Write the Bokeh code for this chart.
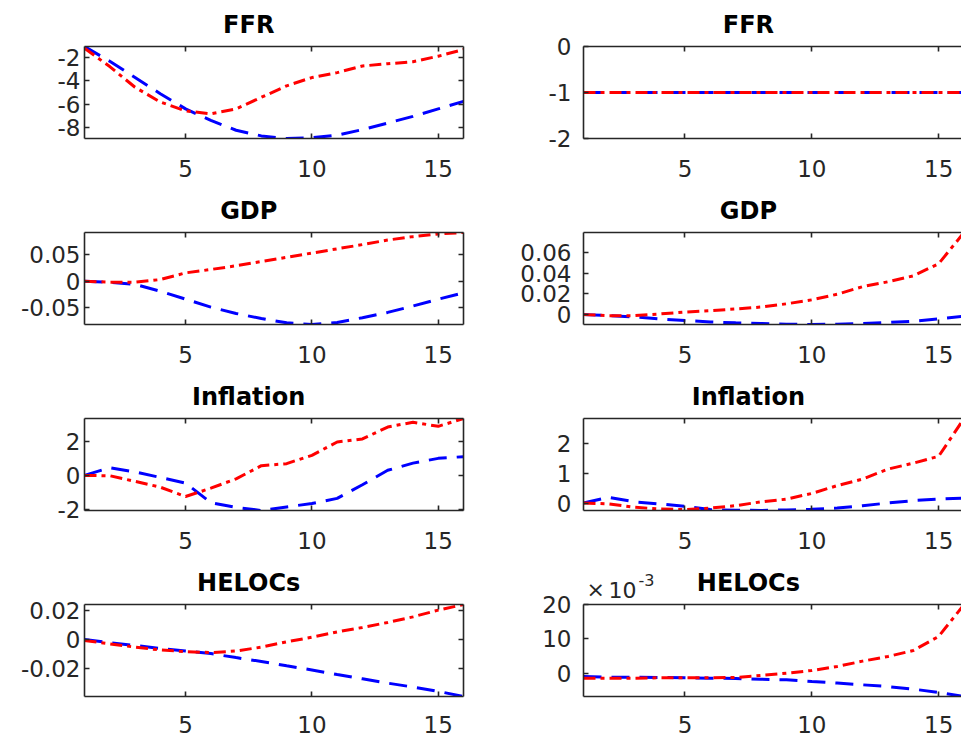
from bokeh.plotting import figure
from bokeh.models import LinearAxis, FixedTicker, Range1d, Label
from bokeh.layouts import column, row
from bokeh.embed import file_html
from bokeh.resources import INLINE

# quarters after the shock
horizon = list(range(1, 17))
x_ticks = [5, 10, 15]

# left column
ffr_a_blue = [-1.10, -2.35, -3.72, -5.10, -6.38, -7.36, -8.19, -8.67, -8.89, -8.83, -8.61, -8.14, -7.58, -7.02, -6.38, -5.75]
ffr_a_red = [-1.25, -2.80, -4.55, -5.80, -6.55, -6.80, -6.38, -5.40, -4.43, -3.73, -3.31, -2.75, -2.56, -2.39, -1.92, -1.36]
gdp_a_blue = [0.0, -0.002, -0.0062, -0.019, -0.034, -0.049, -0.061, -0.0705, -0.0786, -0.0818, -0.078, -0.069, -0.059, -0.047, -0.034, -0.022]
gdp_a_red = [0.0, -0.002, -0.002, 0.003, 0.0156, 0.022, 0.029, 0.037, 0.045, 0.053, 0.061, 0.069, 0.0775, 0.084, 0.089, 0.0918]
infl_a_blue = [0.0, 0.45, 0.20, -0.12, -0.45, -1.60, -1.88, -2.06, -1.85, -1.65, -1.35, -0.55, 0.30, 0.72, 1.00, 1.10]
infl_a_red = [0.0, -0.02, -0.35, -0.69, -1.24, -0.75, -0.20, 0.57, 0.69, 1.18, 1.96, 2.14, 2.84, 3.12, 2.88, 3.34]
heloc_a_blue = [0.0, -0.0023, -0.0041, -0.0062, -0.008, -0.0098, -0.0126, -0.0153, -0.0183, -0.0212, -0.0244, -0.0274, -0.0304, -0.0331, -0.0361, -0.0397]
heloc_a_red = [-0.0007, -0.003, -0.0053, -0.0073, -0.0084, -0.0091, -0.008, -0.0053, -0.0016, 0.0016, 0.0053, 0.0084, 0.0119, 0.0158, 0.0205, 0.0244]

# right column
ffr_b_blue = [-1.0, -1.0, -1.0, -1.0, -1.0, -1.0, -1.0, -1.0, -1.0, -1.0, -1.0, -1.0, -1.0, -1.0, -1.0, -1.0]
ffr_b_red = [-1.0, -1.0, -1.0, -1.0, -1.0, -1.0, -1.0, -1.0, -1.0, -1.0, -1.0, -1.0, -1.0, -1.0, -1.0, -1.0]
gdp_b_blue = [0.0, -0.001, -0.0022, -0.0041, -0.0057, -0.007, -0.0079, -0.0085, -0.0092, -0.0095, -0.0092, -0.0085, -0.0076, -0.0063, -0.0041, -0.0016]
gdp_b_red = [0.0, -0.001, -0.001, 0.0006, 0.0025, 0.0038, 0.0054, 0.0073, 0.0104, 0.0142, 0.0196, 0.0269, 0.0316, 0.0373, 0.049, 0.079]
infl_b_blue = [0.0, 0.19, 0.04, -0.03, -0.11, -0.22, -0.24, -0.25, -0.23, -0.21, -0.17, -0.09, 0.0, 0.08, 0.13, 0.16]
infl_b_red = [0.0, -0.03, -0.14, -0.20, -0.22, -0.17, -0.09, 0.04, 0.13, 0.32, 0.58, 0.80, 1.13, 1.33, 1.56, 2.82]
heloc_b_blue = [-0.00097, -0.00117, -0.00117, -0.00126, -0.00136, -0.00146, -0.00155, -0.00175, -0.00194, -0.00243, -0.0029, -0.0034, -0.0039, -0.00466, -0.0056, -0.0068]
heloc_b_red = [-0.00146, -0.00146, -0.00146, -0.00136, -0.00136, -0.00136, -0.00126, -0.00068, 0.0, 0.00078, 0.00194, 0.0035, 0.00485, 0.0066, 0.0107, 0.0200]

# tick positions and their labels
ffr_a_ticks, ffr_a_labels = [-8, -6, -4, -2], ["-8", "-6", "-4", "-2"]
ffr_b_ticks, ffr_b_labels = [-2, -1, 0], ["-2", "-1", "0"]
gdp_a_ticks, gdp_a_labels = [-0.05, 0, 0.05], ["-0.05", "0", "0.05"]
gdp_b_ticks, gdp_b_labels = [0, 0.02, 0.04, 0.06], ["0", "0.02", "0.04", "0.06"]
infl_a_ticks, infl_a_labels = [-2, 0, 2], ["-2", "0", "2"]
infl_b_ticks, infl_b_labels = [0, 1, 2], ["0", "1", "2"]
heloc_a_ticks, heloc_a_labels = [-0.02, 0, 0.02], ["-0.02", "0", "0.02"]
heloc_b_ticks, heloc_b_labels = [0, 0.01, 0.02], ["0", "10", "20"]

titles = ["FFR", "GDP", "Inflation", "HELOCs"]

AX = "#262626"
FONT = "DejaVu Sans"
TICK_SIZE = "23px"
FRAME_H = 92
TOP = 46
ROW_H = [186, 186, 186, 184]
ROW_X_STANDOFF = [21, 21, 21, 19]
COL_W = [470, 491]
COL_BORDER_L = [84, 113]
COL_BORDER_R = [7, 0]
COL_X_END = [16, 15.9]
COL_STANDOFF = [4, 12]
TITLE_X = 7.5
TITLE_Y = 21.8


def make_axis(ticks, labels=None, show_labels=True, standoff=4):
    ax = LinearAxis(ticker=FixedTicker(ticks=ticks))
    ax.axis_line_color = AX
    ax.axis_line_width = 1.6
    ax.major_tick_line_color = AX
    ax.major_tick_line_width = 1.6
    ax.major_tick_in = 5
    ax.major_tick_out = 0
    ax.minor_tick_line_color = None
    ax.major_label_text_font = FONT
    ax.major_label_text_color = AX
    if show_labels:
        ax.major_label_text_font_size = TICK_SIZE
        ax.major_label_standoff = standoff
        if labels is not None:
            ax.major_label_overrides = {t: s for t, s in zip(ticks, labels)}
    else:
        ax.major_label_text_font_size = "0px"
        ax.major_label_standoff = 0
        ax.major_label_overrides = {t: "" for t in ticks}
    return ax


def make_panel(title, blue, red, y_ticks, y_labels, col, r, y_lim=None, exponent=False):
    if y_lim is None:
        y_lim = (min(blue + red), max(blue + red))
    row_h = ROW_H[r]
    p = figure(width=COL_W[col], height=row_h,
               x_range=Range1d(1, COL_X_END[col]), y_range=Range1d(*y_lim),
               x_axis_location=None, y_axis_location=None,
               toolbar_location=None, output_backend="svg",
               min_border_left=COL_BORDER_L[col], min_border_right=COL_BORDER_R[col],
               min_border_top=TOP, min_border_bottom=row_h - TOP - FRAME_H)
    p.outline_line_color = None
    p.grid.grid_line_color = None
    p.background_fill_color = "white"
    p.border_fill_color = "white"

    p.line(horizon, blue, line_color="blue", line_width=3, line_dash="18 10")
    p.line(horizon, red, line_color="red", line_width=3, line_dash="12 5 4 5")

    p.add_layout(make_axis(y_ticks, y_labels, standoff=COL_STANDOFF[col]), "left")
    p.add_layout(make_axis(x_ticks, standoff=ROW_X_STANDOFF[r]), "below")
    p.add_layout(make_axis(x_ticks, show_labels=False), "above")
    if col == 0:
        p.add_layout(make_axis(y_ticks, show_labels=False), "right")

    p.add_layout(Label(x=TITLE_X, y=TITLE_Y, x_units="data", y_units="screen",
                       text=title, text_align="center", text_baseline="alphabetic",
                       text_font=FONT, text_font_style="bold", text_font_size="24px",
                       text_color="black"), "above")
    if exponent:
        # axis multiplier, written just above the top-left corner of the frame
        for txt, dx, sy, size in [("\u00d7", 0.12, 15.0, "22px"), ("10", 0.99, 15.0, "22px"), ("-3", 2.17, 25.0, "16px")]:
            p.add_layout(Label(x=1 + dx, y=FRAME_H + sy, x_units="data", y_units="screen",
                               text=txt, text_align="left", text_baseline="alphabetic",
                               text_font=FONT, text_font_size=size, text_color=AX), "left")
    return p


rows = [
    row(make_panel(titles[0], ffr_a_blue, ffr_a_red, ffr_a_ticks, ffr_a_labels, 0, 0),
        make_panel(titles[0], ffr_b_blue, ffr_b_red, ffr_b_ticks, ffr_b_labels, 1, 0, y_lim=(-2, 0))),
    row(make_panel(titles[1], gdp_a_blue, gdp_a_red, gdp_a_ticks, gdp_a_labels, 0, 1),
        make_panel(titles[1], gdp_b_blue, gdp_b_red, gdp_b_ticks, gdp_b_labels, 1, 1)),
    row(make_panel(titles[2], infl_a_blue, infl_a_red, infl_a_ticks, infl_a_labels, 0, 2),
        make_panel(titles[2], infl_b_blue, infl_b_red, infl_b_ticks, infl_b_labels, 1, 2)),
    row(make_panel(titles[3], heloc_a_blue, heloc_a_red, heloc_a_ticks, heloc_a_labels, 0, 3),
        make_panel(titles[3], heloc_b_blue, heloc_b_red, heloc_b_ticks, heloc_b_labels, 1, 3, exponent=True)),
]

page = column(*rows)

with open("out.html", "w") as f:
    f.write(file_html(page, INLINE))
